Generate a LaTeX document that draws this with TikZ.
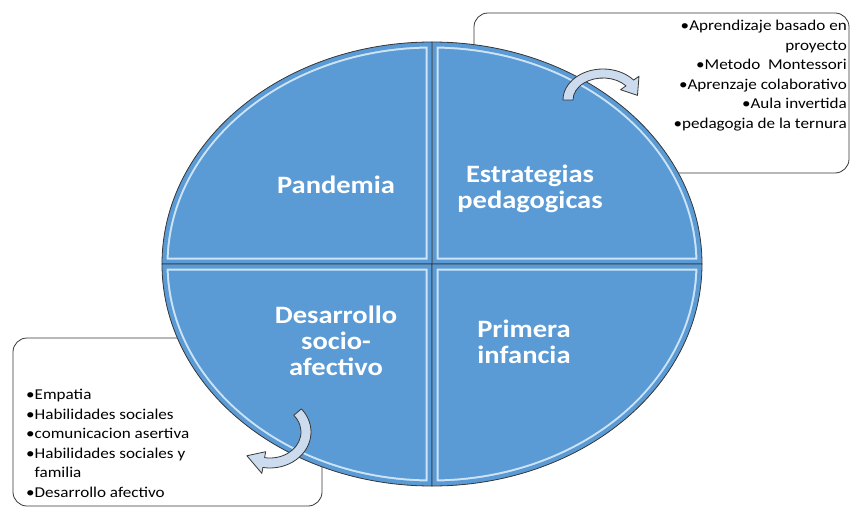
\documentclass[tikz,border=0pt]{standalone}
\usepackage{fontspec}
\setmainfont{Carlito}
\newfontfamily\widefont[FakeStretch=1.14]{Carlito}
\usetikzlibrary{calc}

\definecolor{quadblue}{RGB}{91,155,213}
\definecolor{glowblue}{RGB}{205,228,247}
\definecolor{arrowblue}{RGB}{204,219,238}
\definecolor{edgegray}{RGB}{55,55,55}

\begin{document}
\begin{tikzpicture}[x=1pt,y=1pt,
    quadlabel/.style={text=white,font=\widefont\bfseries\fontsize{25}{26}\selectfont,align=center},
    listbox/.style={draw=edgegray,line width=0.8pt,rounded corners=14pt,fill=white},
    listtext/.style={font=\widefont\fontsize{15}{19.5}\selectfont,inner sep=0pt},
    bentarrow/.style={fill=arrowblue,draw=edgegray,line width=0.8pt,line join=round}]

    \useasboundingbox (0,0) rectangle (851,507);

    % Boxes behind the circle
    \draw[listbox] (474,334) rectangle (849,494);
    \draw[listbox] (13,1) rectangle (322,169);

    % Circle split in four
    \coordinate (O) at (432,243);
    \def\rx{270}
    \def\ry{222}
    \def\sector#1{(O) -- ++({\rx*cos(#1)},{\ry*sin(#1)}) arc[start angle=#1, end angle=#1+90, x radius=\rx, y radius=\ry] -- cycle}
    \foreach \a in {0,90,180,270} {
        \fill[quadblue] \sector{\a};
        \begin{scope}
            \clip \sector{\a};
            \draw[glowblue,line width=13pt] \sector{\a};
            \draw[quadblue,line width=9pt] \sector{\a};
        \end{scope}
        \draw[edgegray,line width=0.8pt] \sector{\a};
    }

    \node[quadlabel] (pandemia) at (336,322) {Pandemia};
    \node[quadlabel] (estrategias) at (530,318) {Estrategias\\pedagogicas};
    \node[quadlabel] (desarrollo) at (336,166) {Desarrollo\\socio-\\afectivo};
    \node[quadlabel] (infancia) at (524,165) {Primera\\infancia};

    % Bent arrows
    \coordinate (Ct) at (603,407);
    \draw[bentarrow] ($(Ct)+(180:40 and 31)$)
        arc[start angle=180, end angle=40, x radius=40, y radius=31]
        -- ($(Ct)+(40:47 and 37)$) -- ($(Ct)+(10:35 and 26.5)$)
        -- ($(Ct)+(40:23 and 16)$) -- ($(Ct)+(40:30 and 22)$)
        arc[start angle=40, end angle=180, x radius=30, y radius=22] -- cycle;

    \coordinate (Cb) at (270,75);
    \draw[bentarrow] ($(Cb)+(40:41 and 36)$)
        arc[start angle=40, end angle=-100, x radius=41, y radius=36]
        -- ($(Cb)+(-100:47 and 42)$) -- ($(Cb)+(-130:36 and 31)$)
        -- ($(Cb)+(-100:25 and 20)$) -- ($(Cb)+(-100:31 and 26)$)
        arc[start angle=-100, end angle=40, x radius=31, y radius=26] -- cycle;

    % Lists
    \node[listtext,align=right,anchor=north east] (metodos) at (847,487)
        {•Aprendizaje basado en\\proyecto\\•Metodo\ \ Montessori\\•Aprenzaje colaborativo\\•Aula invertida\\•pedagogia de la ternura};
    \node[listtext,align=left,anchor=north west] (habilidades) at (26,118)
        {•Empatia\\•Habilidades sociales\\•comunicacion asertiva\\•Habilidades sociales y\\\hphantom{•}familia\\•Desarrollo afectivo};

\end{tikzpicture}
\end{document}
